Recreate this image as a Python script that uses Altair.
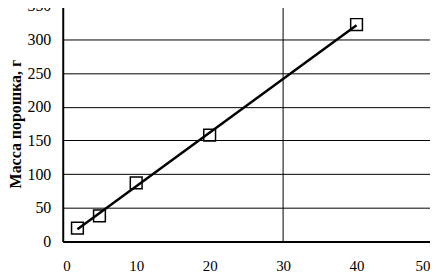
import altair as alt
import pandas as pd

x_vals = [2, 5, 10, 20, 40]
y_vals = [20, 38, 87, 158, 322]
vline_x = [30]

df = pd.DataFrame({"x": x_vals, "y": y_vals})
vdf = pd.DataFrame({"x": vline_x})

FONT = "Liberation Serif"

xscale = alt.Scale(domain=[0, 50], nice=False)
yscale = alt.Scale(domain=[0, 350], nice=False)

xax = alt.Axis(values=[0, 10, 20, 30, 40, 50], grid=False, ticks=False, domain=True,
               domainColor="black", domainWidth=2, labelFont=FONT, labelFontSize=15,
               labelColor="black", labelPadding=17, title=None)
yax = alt.Axis(values=[0, 50, 100, 150, 200, 250, 300, 350], grid=True, gridColor="black",
               gridWidth=1, gridOpacity=1, ticks=False, domain=True, domainColor="black",
               domainWidth=2, labelFont=FONT, labelFontSize=16, labelColor="black",
               labelPadding=12, title="Масса порошка, г", titleFont=FONT, titleFontSize=16,
               titleFontWeight="bold", titleColor="black", titlePadding=3)

base = alt.Chart(df)

vline = alt.Chart(vdf).mark_rule(color="black", strokeWidth=1).encode(
    x=alt.X("x:Q", scale=xscale, axis=xax)
)

fit = base.transform_regression("x", "y", extent=[2, 40]).mark_line(
    color="black", strokeWidth=2.5
).encode(
    x=alt.X("x:Q", scale=xscale, axis=xax),
    y=alt.Y("y:Q", scale=yscale, axis=yax),
)

pts = base.mark_point(shape="square", filled=False, color="black", size=140,
                      strokeWidth=1.5, opacity=1).encode(
    x=alt.X("x:Q", scale=xscale, axis=xax),
    y=alt.Y("y:Q", scale=yscale, axis=yax),
)

chart = alt.layer(vline, pts, fit).properties(
    width=369, height=237,
    autosize=alt.AutoSizeParams(type="none"),
    padding={"left": 55, "top": -3, "right": 0, "bottom": 32},
).configure_view(stroke=None).configure(background="white")

chart.save("out.html", embed_options={"renderer": "svg", "actions": False})
